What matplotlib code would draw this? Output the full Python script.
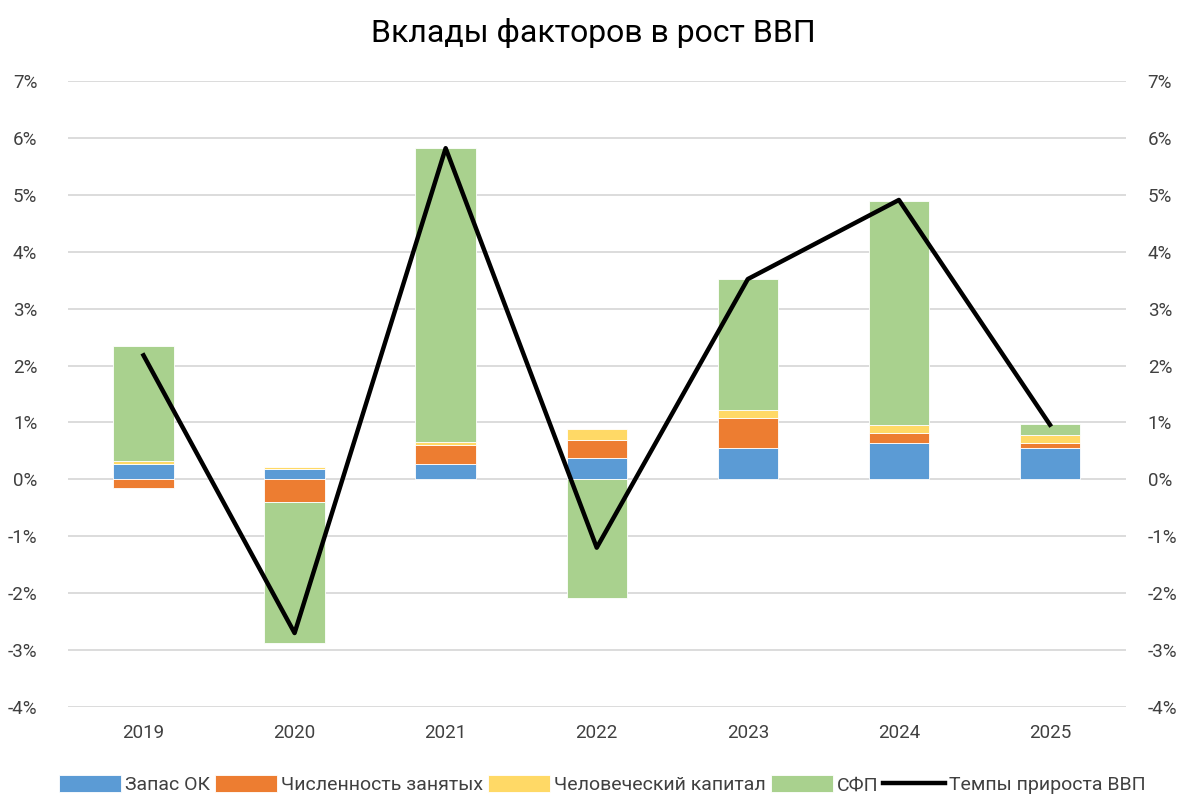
import matplotlib
matplotlib.use("Agg")
import matplotlib.pyplot as plt
import numpy as np
from matplotlib.ticker import FuncFormatter

plt.rcParams['font.family'] = ['Roboto', 'DejaVu Sans']

years = ['2019', '2020', '2021', '2022', '2023', '2024', '2025']
capital = [0.27, 0.175, 0.275, 0.37, 0.55, 0.64, 0.55]       # Запас ОК
employment = [-0.16, -0.40, 0.33, 0.33, 0.53, 0.17, 0.09]   # Численность занятых
human = [0.05, 0.035, 0.045, 0.18, 0.14, 0.14, 0.14]        # Человеческий капитал
tfp = [2.02, -2.48, 5.17, -2.08, 2.30, 3.95, 0.20]           # СФП
gdp = [2.18, -2.70, 5.82, -1.20, 3.52, 4.91, 0.96]           # Темпы прироста ВВП

names = ['Запас ОК', 'Численность занятых', 'Человеческий капитал', 'СФП']
colors = ['#5B9BD5', '#ED7D31', '#FFD966', '#A9D18E']

fig = plt.figure(figsize=(11.86, 7.96), dpi=100)
ax = fig.add_axes([0.0573, 0.1118, 0.8917, 0.7864])

x = np.arange(len(years))
series = [capital, employment, human, tfp]
pos_base = np.zeros(len(years))
neg_base = np.zeros(len(years))
handles = []
for vals, name, c in zip(series, names, colors):
    vals = np.array(vals)
    bottoms = np.where(vals >= 0, pos_base, neg_base)
    b = ax.bar(x, vals, width=0.4, bottom=bottoms, color=c, edgecolor='white',
               linewidth=0.6, label=name, zorder=2)
    handles.append(b)
    pos_base = pos_base + np.where(vals >= 0, vals, 0)
    neg_base = neg_base + np.where(vals < 0, vals, 0)

ln, = ax.plot(x, gdp, color='black', linewidth=3.2, label='Темпы прироста ВВП', zorder=3)
handles.append(ln)

ax.set_xlim(-0.5, len(years) - 0.5)
ax.set_ylim(-4, 7)
ax.set_yticks(np.arange(-4, 8, 1))
fmt = FuncFormatter(lambda v, p: f'{int(round(v))}%')
ax.yaxis.set_major_formatter(fmt)
ax.set_xticks(x)
ax.set_xticklabels(years)
ax.grid(axis='y', color='#D9D9D9', linewidth=1.3, zorder=0)
ax.set_axisbelow(True)
for s in ax.spines.values():
    s.set_visible(False)
ax.tick_params(axis='both', length=0, labelsize=13.5, colors='#404040')
ax.tick_params(axis='y', pad=22)
ax.tick_params(axis='x', pad=12)

ax2 = ax.twinx()
ax2.set_ylim(-4, 7)
ax2.set_yticks(np.arange(-4, 8, 1))
ax2.yaxis.set_major_formatter(fmt)
for s in ax2.spines.values():
    s.set_visible(False)
ax2.tick_params(axis='y', length=0, labelsize=13.5, colors='#404040', pad=16)

fig.suptitle('Вклады факторов в рост ВВП', y=0.978, fontsize=23, color='black')

fig.legend(handles=handles, labels=names + ['Темпы прироста ВВП'], loc='center',
           bbox_to_anchor=(0.508, 0.014), ncol=5, frameon=False, fontsize=14,
           handlelength=3.2, handleheight=0.9, columnspacing=0.25, handletextpad=0.2,
           labelcolor='#404040')

fig.savefig('out.png', dpi=100)
